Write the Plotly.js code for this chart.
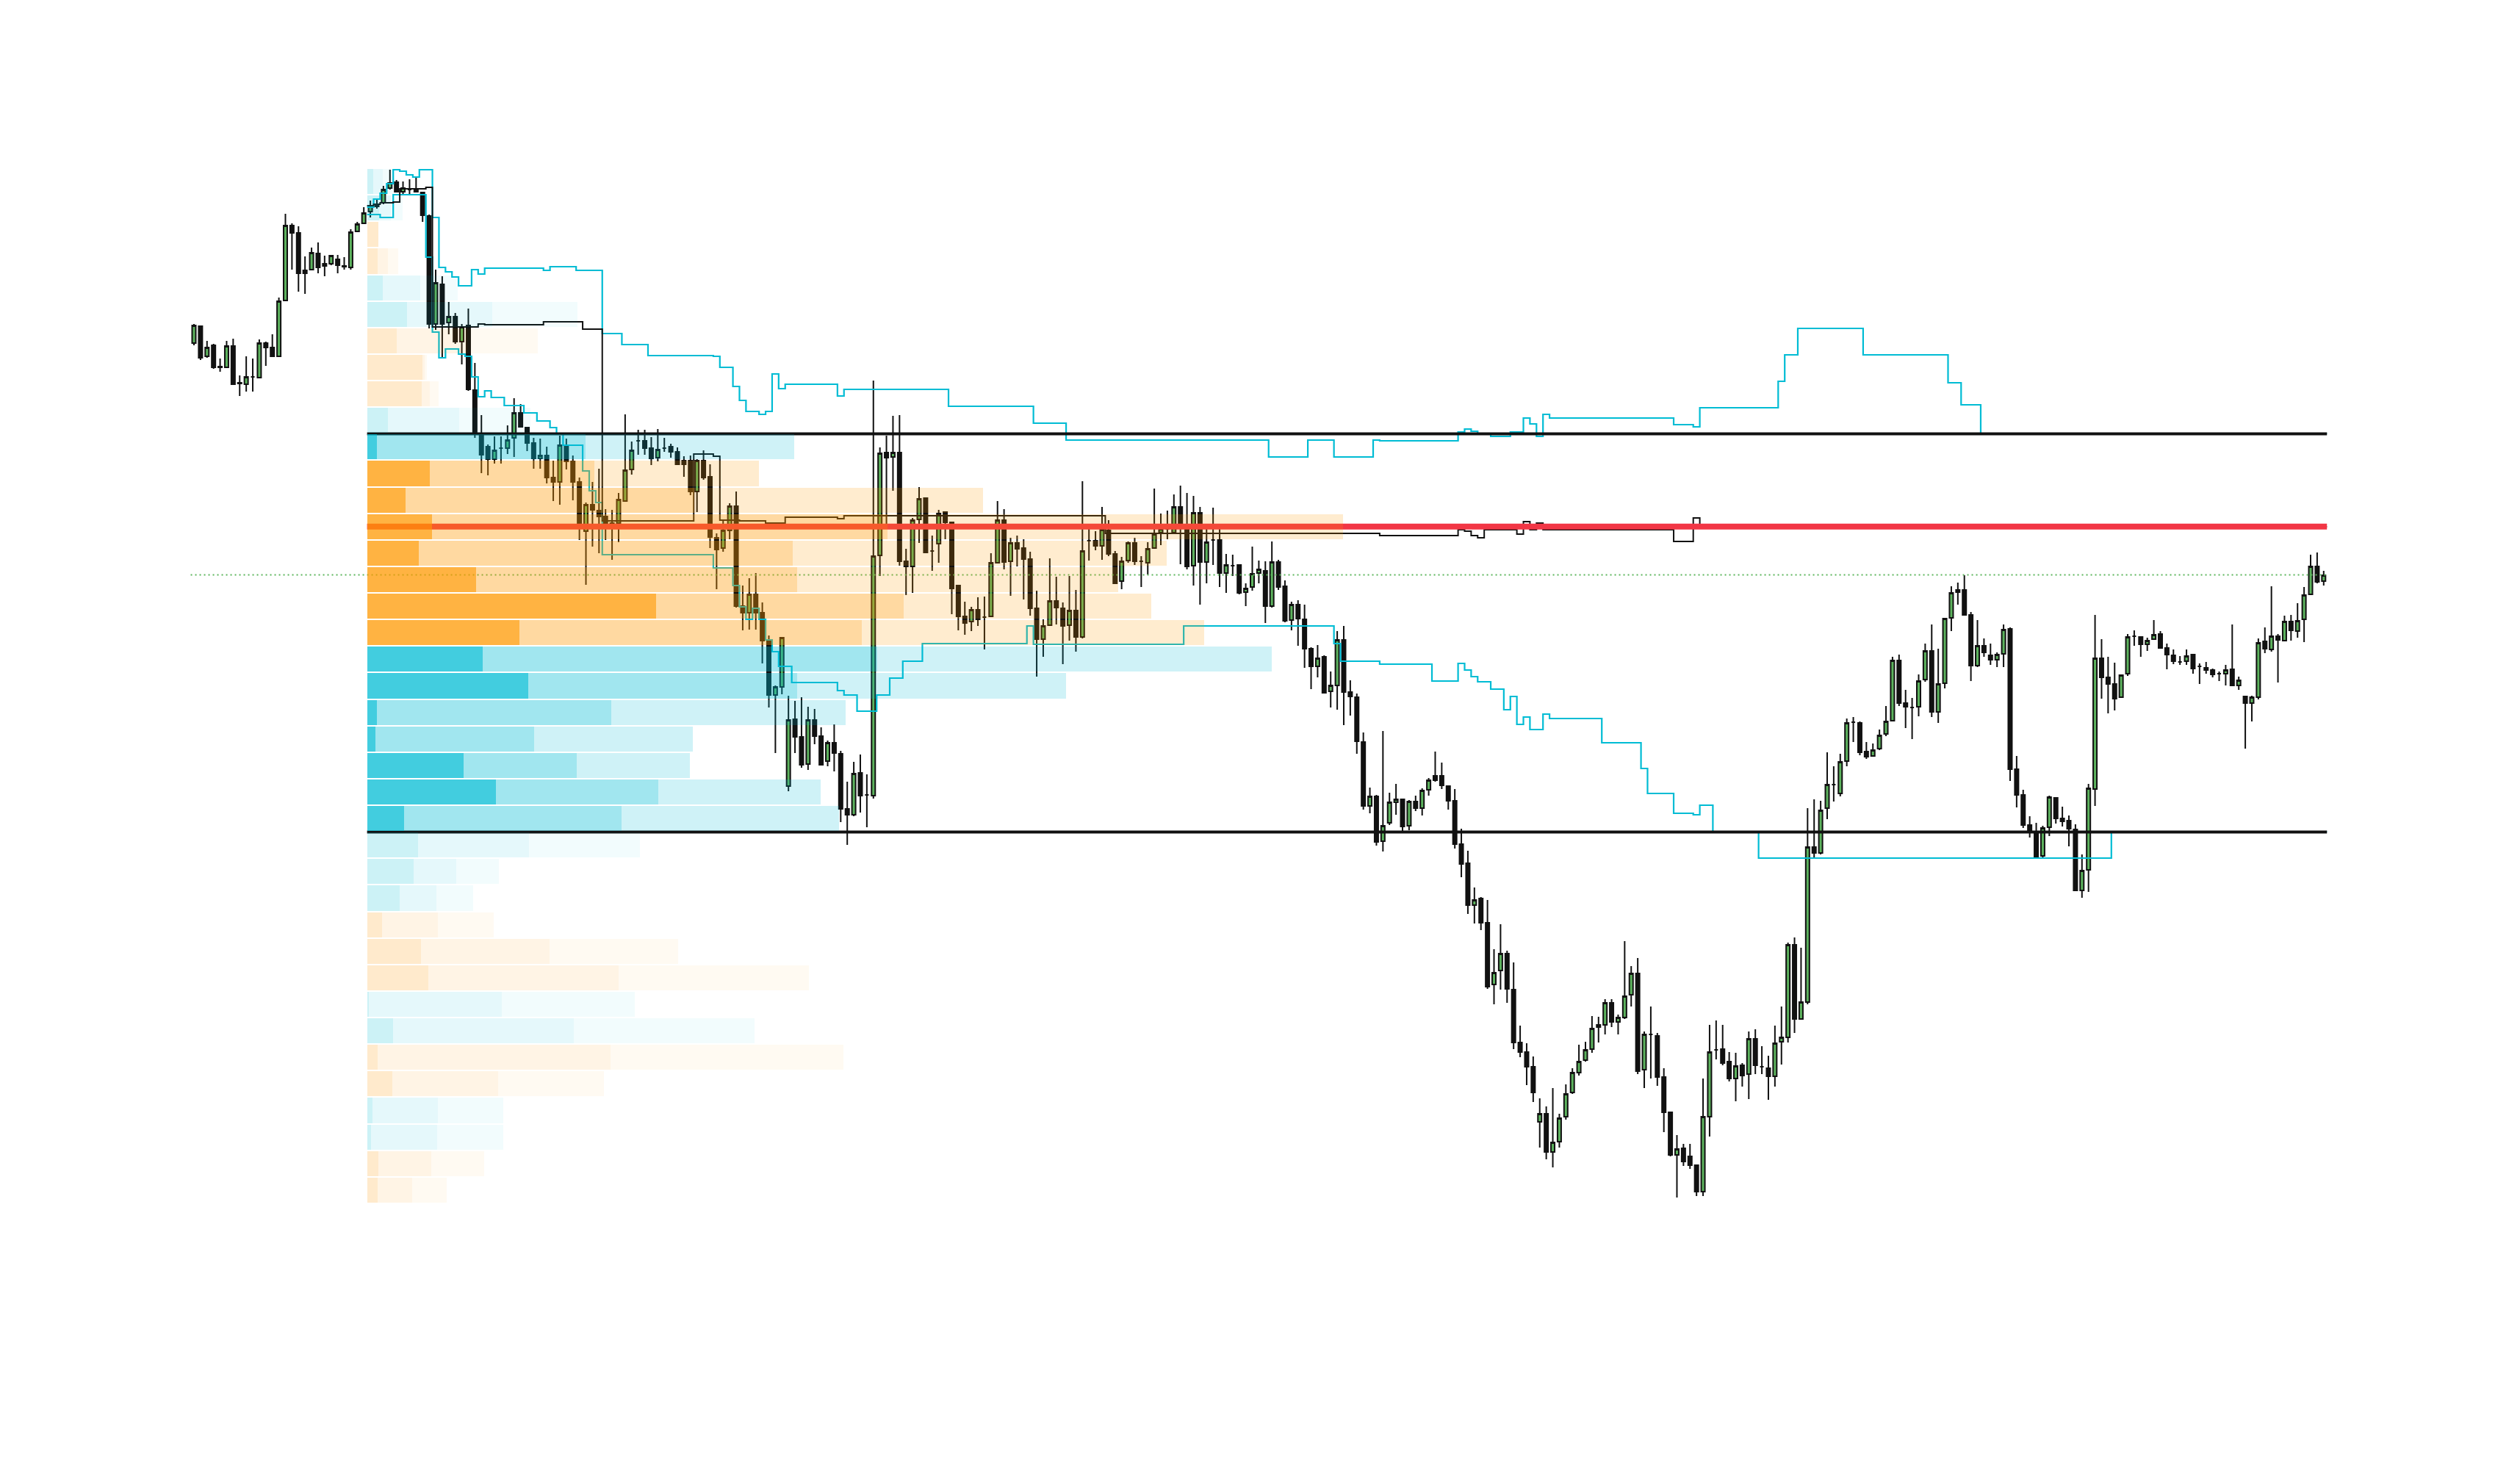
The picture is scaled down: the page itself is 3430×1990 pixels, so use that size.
<!DOCTYPE html>
<html><head><meta charset="utf-8">
<script src="https://cdn.plot.ly/plotly-3.0.1.min.js"></script>
<style>html,body{margin:0;padding:0;background:#fff}#chart{width:3430px;height:1990px}</style>
</head><body><div id="chart"></div>
<script>
// ---------------- DATA ----------------
const opens=[1533,1556,1515,1530,1501,1500,1529,1479,1477,1487,
1486,1533,1527,1515,1591,1693,1683,1632,1633,1655,
1641,1641,1647,1638,1636,1685,1696,1712,1719,1724,
1744,1752,1739,1742,1742,1738,1706,1559,1613,1561,
1569,1535,1557,1469,1409,1392,1375,1390,1390,1404,
1438,1418,1397,1376,1380,1350,1344,1392,1372,1344,
1277,1313,1305,1297,1288,1288,1318,1361,1400,1400,
1390,1377,1390,1392,1385,1373,1373,1331,1373,1351,
1268,1254,1278,1311,1175,1166,1191,1166,1128,1054,
1065,930,1021,997,960,1020,998,964,989,974,
899,891,948,918,917,1244,1384,1378,1384,1236,
1229,1293,1322,1250,1260,1303,1289,1203,1161,1154,
1170,1160,1161,1234,1292,1236,1261,1254,1239,1172,
1130,1149,1182,1172,1149,1169,1133,1264,1264,1257,
1278,1246,1209,1237,1261,1236,1234,1254,1275,1280,
1275,1310,1286,1230,1302,1235,1265,1265,1220,1230,
1231,1194,1201,1220,1223,1175,1235,1202,1156,1177,
1157,1117,1093,1106,1059,1067,1129,1058,1051,990,
903,916,855,880,908,912,876,909,900,925,
944,944,930,910,851,825,768,777,744,660,
679,702,653,581,568,548,473,484,432,446,
480,513,540,557,572,602,605,635,609,615,
646,675,544,592,590,534,486,428,437,426,
414,378,480,571,572,555,532,550,538,586,
548,546,535,582,588,714,613,636,847,839,
900,932,920,964,1017,1016,977,971,981,1001,
1019,1101,1043,1037,1038,1075,1114,1031,1070,1159,
1197,1197,1163,1094,1121,1108,1102,1110,1144,953,
918,877,868,835,874,914,886,883,871,788,
816,926,1104,1078,1069,1051,1083,1134,1133,1123,
1130,1137,1118,1108,1099,1100,1109,1093,1091,1088,
1083,1083,1089,1067,1052,1043,1051,1127,1116,1134,
1128,1154,1141,1157,1191,1229,1209];
const highs=[1559,1557,1536,1532,1512,1536,1539,1489,1515,1512,
1538,1535,1545,1595,1709,1696,1692,1651,1663,1670,
1652,1653,1653,1650,1688,1698,1718,1727,1730,1747,
1769,1755,1753,1756,1760,1739,1708,1633,1624,1589,
1574,1559,1580,1506,1435,1395,1406,1406,1421,1458,
1450,1418,1404,1403,1392,1373,1407,1403,1380,1350,
1316,1344,1362,1307,1306,1329,1436,1399,1415,1415,
1405,1416,1404,1396,1391,1379,1380,1375,1387,1368,
1274,1292,1315,1331,1203,1213,1220,1180,1135,1067,
1133,1053,1046,1051,1038,1035,1010,992,1014,978,
936,963,973,946,1482,1391,1407,1434,1435,1253,
1295,1337,1323,1271,1306,1304,1290,1203,1181,1174,
1187,1188,1247,1318,1307,1268,1271,1266,1249,1196,
1157,1240,1215,1180,1216,1197,1345,1280,1277,1310,
1292,1250,1242,1263,1268,1243,1262,1335,1301,1305,
1327,1339,1329,1325,1310,1280,1309,1280,1246,1245,
1232,1206,1256,1237,1236,1263,1238,1210,1181,1183,
1177,1119,1122,1108,1086,1141,1148,1074,1056,1003,
928,918,1005,921,933,913,911,917,927,941,
977,962,931,926,872,842,792,779,775,708,
742,706,690,604,580,562,505,494,519,484,
524,546,578,582,617,616,640,640,619,719,
685,696,596,630,594,546,486,455,443,443,
414,532,605,611,605,568,567,553,596,599,
576,563,604,630,717,724,710,900,912,910,
976,957,974,1022,1024,1018,990,988,1007,1039,
1106,1109,1061,1050,1082,1124,1150,1117,1159,1202,
1207,1217,1167,1156,1131,1124,1112,1150,1146,971,
925,889,880,876,917,915,902,890,878,837,
933,1163,1130,1106,1098,1082,1137,1142,1133,1132,
1156,1141,1124,1116,1107,1116,1110,1097,1099,1090,
1086,1095,1150,1079,1053,1053,1131,1146,1202,1137,
1162,1163,1179,1201,1245,1248,1223];
const lows=[1530,1510,1513,1498,1494,1499,1476,1461,1467,1467,
1485,1502,1515,1514,1590,1633,1603,1600,1632,1628,
1624,1639,1628,1633,1633,1684,1695,1704,1716,1722,
1742,1738,1736,1736,1738,1698,1553,1551,1513,1545,
1532,1504,1468,1404,1356,1353,1369,1369,1382,1378,
1418,1386,1362,1362,1342,1318,1313,1361,1319,1265,
1204,1256,1247,1265,1238,1262,1317,1354,1381,1381,
1367,1372,1385,1377,1367,1351,1326,1303,1347,1254,
1198,1249,1266,1173,1142,1143,1143,1097,1037,975,
1055,923,975,955,952,987,959,957,950,881,
850,889,894,874,913,1216,1283,1332,1230,1190,
1193,1261,1248,1223,1234,1266,1164,1142,1136,1141,
1148,1116,1160,1233,1225,1189,1229,1184,1162,1079,
1106,1148,1150,1096,1128,1113,1131,1237,1251,1238,
1243,1206,1198,1234,1231,1201,1218,1253,1258,1266,
1275,1232,1225,1203,1177,1206,1231,1201,1193,1216,
1191,1175,1196,1206,1152,1173,1197,1153,1142,1121,
1091,1062,1078,1057,1037,1034,1013,1026,974,898,
893,849,841,877,891,869,870,896,890,917,
936,926,898,845,806,756,743,734,654,633,
653,635,572,561,523,500,438,422,411,438,
476,511,536,555,567,581,592,602,592,613,
630,538,519,532,522,459,426,370,413,409,
372,372,453,558,550,528,501,521,504,538,
538,503,521,551,581,594,612,633,833,837,
885,909,916,957,990,972,967,970,979,998,
1018,1039,1009,994,1025,1072,1024,1016,1063,1141,
1177,1163,1073,1092,1106,1095,1092,1092,937,901,
873,860,834,833,862,879,875,848,788,778,
786,903,1049,1029,1033,1050,1080,1121,1106,1114,
1129,1117,1089,1096,1095,1095,1083,1069,1083,1078,
1073,1067,1066,1061,981,1018,1048,1111,1113,1071,
1127,1128,1132,1126,1190,1206,1203];
const closes=[1557,1513,1527,1500,1500,1529,1477,1478,1487,1487,
1533,1527,1515,1590,1693,1683,1628,1628,1656,1636,
1638,1652,1639,1637,1684,1695,1710,1719,1722,1742,
1751,1739,1744,1742,1739,1707,1559,1615,1559,1569,
1535,1555,1470,1410,1381,1375,1387,1390,1401,1438,
1419,1397,1376,1380,1350,1344,1394,1372,1344,1286,
1313,1306,1297,1288,1285,1320,1360,1387,1400,1390,
1376,1388,1390,1385,1368,1368,1331,1373,1350,1269,
1252,1278,1311,1175,1166,1191,1166,1128,1054,1065,
1132,1020,997,959,1020,998,959,989,975,899,
891,947,917,918,1243,1383,1377,1384,1236,1229,
1292,1321,1248,1250,1301,1289,1199,1161,1152,1170,
1157,1160,1234,1292,1235,1261,1253,1239,1172,1130,
1148,1182,1173,1148,1169,1133,1250,1264,1257,1279,
1246,1206,1236,1261,1236,1236,1253,1273,1280,1280,
1310,1286,1229,1302,1235,1262,1265,1220,1231,1230,
1193,1199,1219,1225,1175,1235,1201,1155,1177,1158,
1117,1093,1104,1057,1067,1129,1058,1052,991,903,
916,854,876,908,912,875,909,900,924,938,
938,931,910,851,824,768,775,744,657,676,
702,654,581,568,548,513,484,432,445,478,
511,540,555,571,600,605,635,609,615,644,
675,542,592,592,534,486,428,436,419,414,
378,480,568,571,553,532,549,536,586,550,
548,535,580,588,714,613,636,847,839,897,
932,932,963,1016,1017,976,970,979,999,1018,
1101,1043,1038,1037,1073,1114,1031,1069,1158,1193,
1194,1163,1094,1121,1112,1102,1109,1143,953,918,
877,868,834,873,915,886,882,872,788,815,
927,1104,1078,1069,1049,1081,1133,1134,1123,1128,
1136,1118,1109,1100,1099,1107,1090,1093,1088,1082,
1083,1088,1067,1074,1043,1051,1125,1117,1134,1129,
1154,1142,1155,1190,1229,1208,1217];

// volume profile rows (row 0 = top price row)
const profileHigh = 1771;
const profileLow = 362;
const profileStartBar = 27;
const buyVol=[13.5,16,15,28,51,116,136,78,85.5,97,
284,309,445,708,579,585,730,673,537,366,
319,216,154,221,296,151,58,50,96,248,
342,181,246,331,178,89,90,87,61];
const sellVol=[21.5,32,0,14,72,170,96,3,11.5,125,
297,224,393,620,509,437,337,466,694,585,
332,227,285,396,346,220,121,94,76,175,
259,183,281,317,144,96,95,72,47];
const valueAreaHigh = 1409.5;
const valueAreaLow = 867.5;
const pocPrice = 1283.3;
const lastPrice = 1217.5;

// developing value area high / low and POC (bar where a new value starts, value)
const devVahBars=[27,28,29,30,31,32,33,34,35,37,38,39,40,41,43,44,45,54,55,59,63,66,70,80,81,83,84,85,87,88,89,90,91,99,100,116,129,134,165,171,175,181,182,194,195,196,197,199,202,204,205,206,207,208,227,230,231,243,244,246,256,269,271,274];
const devVahVals=[1718,1729,1737,1750,1769,1767,1762,1759,1769,1704,1636,1630,1623,1611,1633,1627,1635,1632,1637,1632,1546,1531,1516,1515,1500,1474,1455,1440,1436,1440,1491,1471,1477,1461,1470,1447,1424,1401,1378,1401,1378,1401,1400,1412,1416,1413,1410,1406,1412,1431,1423,1406,1436,1431,1422,1419,1445,1481,1517,1553,1517,1479,1449,1410];
const devValBars=[27,29,31,36,37,38,39,41,42,43,44,45,46,48,51,53,55,56,57,60,61,62,63,80,83,84,85,86,87,88,89,90,92,99,100,102,105,107,109,112,128,129,152,175,176,182,190,194,195,196,197,199,201,202,203,204,205,207,208,216,222,223,227,230,231,233,240,294];
const devValVals=[1708,1704,1735,1650,1548,1513,1525,1518,1515,1487,1460,1468,1459,1448,1438,1427,1418,1409,1394,1359,1332,1316,1245,1227,1203,1174,1157,1172,1157,1129,1113,1093,1071,1060,1054,1032,1054,1077,1100,1124,1148,1123,1148,1124,1100,1096,1073,1097,1088,1079,1072,1062,1034,1052,1014,1024,1007,1028,1022,989,954,920,893,891,904,868,832,868];
const devPocBars=[27,28,29,31,32,36,37,44,45,54,60,63,77,80,81,84,88,91,99,100,140,182,194,195,196,197,198,203,204,205,206,207,227,230,231];
const devPocVals=[1720,1722,1724,1725,1743,1745,1555,1559,1558,1562,1552,1291,1382,1379,1292,1291,1288,1296,1294,1298,1274,1271,1279,1277,1271,1268,1279,1273,1290,1279,1288,1279,1263,1295,1283];

// ---------------- LAYOUT CONSTANTS ----------------
const W = 3430, H = 1990;
const pxPerBar = 8.892, firstBarPx = 264;
const xRange = [-firstBarPx / pxPerBar, (W - firstBarPx) / pxPerBar];
const n = opens.length;
const barIdx = opens.map((_, i) => i);
const startX = profileStartBar - 0.5;
const endX = n - 0.5;
// profile axis: 0 at the profile start, one volume unit per pixel
const x2Range = [(xRange[0] - startX) * pxPerBar, (xRange[1] - startX) * pxPerBar];

const traces = [];
traces.push({
  type: 'candlestick', x: barIdx, open: opens, high: highs, low: lows, close: closes,
  xaxis: 'x', yaxis: 'y', whiskerwidth: 0, hoverinfo: 'skip', showlegend: false,
  increasing: {line: {color: '#111111', width: 2}, fillcolor: '#5DB35E'},
  decreasing: {line: {color: '#111111', width: 2}, fillcolor: '#111111'}
});

function hLine(x0, x1, y, color, width, dash) {
  return {type: 'scatter', mode: 'lines', x: [x0, x1], y: [y, y], xaxis: 'x', yaxis: 'y',
    line: {color: color, width: width, dash: dash || 'solid'}, hoverinfo: 'skip', showlegend: false};
}
function stepLine(bars, vals, color, width) {
  const xs = bars.map(b => b - 0.5); xs.push(endX);
  const ys = vals.slice(); ys.push(vals[vals.length - 1]);
  return {type: 'scatter', mode: 'lines', x: xs, y: ys, xaxis: 'x', yaxis: 'y',
    line: {shape: 'hv', color: color, width: width}, hoverinfo: 'skip', showlegend: false};
}

traces.push(hLine(-0.5, endX, lastPrice, '#5DB55D', 2, '2px,4px'));
traces.push(stepLine(devVahBars, devVahVals, '#00BCD4', 2.2));
traces.push(stepLine(devValBars, devValVals, '#00BCD4', 2.2));
traces.push(stepLine(devPocBars, devPocVals, '#111111', 2));
traces.push(hLine(startX, endX, pocPrice, '#F23645', 8));
traces.push(hLine(startX, endX, valueAreaHigh, '#111111', 4));
traces.push(hLine(startX, endX, valueAreaLow, '#111111', 4));

// ---------------- PROFILE ----------------
const nRows = buyVol.length;
const rowH = (profileHigh - profileLow) / nRows;
const centers = [], dark = [], mid = [], darkC = [], midC = [], lightC = [], midBase = [], lightBase = [];
for (let r = 0; r < nRows; r++) {
  const c = profileHigh - (r + 0.5) * rowH;
  centers.push(c);
  const d = Math.abs(buyVol[r] - sellVol[r]);
  const m = Math.min(buyVol[r], sellVol[r]);
  dark.push(d); mid.push(m); midBase.push(d); lightBase.push(d + m);
  const rgb = buyVol[r] >= sellVol[r] ? '255,152,0' : '0,188,212';
  const inVA = c <= valueAreaHigh && c >= valueAreaLow;
  const a = inVA ? [0.74, 0.37, 0.19] : [0.2, 0.1, 0.05];
  darkC.push('rgba(' + rgb + ',' + a[0] + ')');
  midC.push('rgba(' + rgb + ',' + a[1] + ')');
  lightC.push('rgba(' + rgb + ',' + a[2] + ')');
}
function profBar(xs, base, colors) {
  return {type: 'bar', orientation: 'h', x: xs, y: centers, base: base, width: rowH - 2,
    xaxis: 'x2', yaxis: 'y', marker: {color: colors, line: {width: 0}},
    hoverinfo: 'skip', showlegend: false};
}
traces.push(profBar(dark, 0, darkC));
traces.push(profBar(mid, midBase, midC));
traces.push(profBar(mid, lightBase, lightC));

const layout = {
  width: W, height: H,
  margin: {l: 0, r: 0, t: 0, b: 0, pad: 0, autoexpand: false},
  paper_bgcolor: '#ffffff', plot_bgcolor: '#ffffff',
  showlegend: false, barmode: 'overlay', bargap: 0,
  boxgap: 0.25, boxgroupgap: 0.25,
  xaxis: {range: xRange, visible: false, rangeslider: {visible: false}, fixedrange: true},
  xaxis2: {range: x2Range, overlaying: 'x', anchor: 'y', visible: false, fixedrange: true},
  yaxis: {range: [10, 2000], visible: false, fixedrange: true}
};
Plotly.newPlot('chart', traces, layout, {staticPlot: true, displayModeBar: false});
</script>
</body></html>
